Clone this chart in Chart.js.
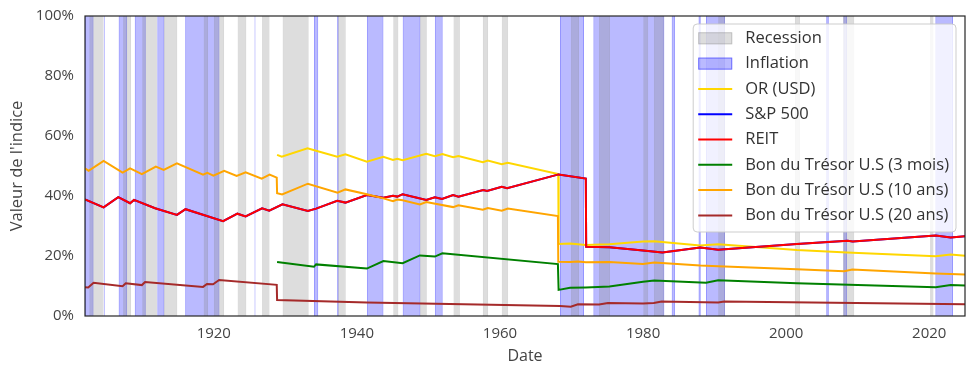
<!DOCTYPE html>
<html><head><meta charset="utf-8">
<script src="https://cdn.jsdelivr.net/npm/chart.js"></script>
<style>html,body{margin:0;padding:0;background:#fff}canvas{display:block}</style>
</head><body>
<canvas id="c" width="974" height="375"></canvas>
<script>
// ---------- data ----------
const xTickYears = [1920, 1940, 1960, 1980, 2000, 2020];
const yTickValues = [0, 20, 40, 60, 80, 100];

const recessionStart = [1902.6, 1907.33, 1910.0, 1913.0, 1918.58, 1920.0, 1923.33, 1926.75, 1929.62, 1937.33, 1945.08, 1948.83, 1953.5, 1957.6, 1960.25, 1969.9, 1973.85, 1980.03, 1981.5, 1990.5, 2001.22, 2007.95, 2020.12];
const recessionEnd   = [1904.6, 1908.45, 1912.05, 1914.9, 1919.2, 1921.45, 1924.55, 1927.8, 1933.27, 1938.45, 1945.8, 1949.78, 1954.4, 1958.35, 1961.15, 1971.05, 1975.38, 1980.72, 1982.92, 1991.45, 2001.95, 2009.52, 2020.6];

const inflationStart = [1902.0, 1904.62, 1906.7, 1908.95, 1912.1, 1916.0, 1925.69, 1934.0, 1937.24, 1941.4, 1946.4, 1950.9, 1968.39, 1973.05, 1984.0, 1987.75, 1988.8, 2005.6, 2008.0, 2020.85];
const inflationEnd   = [1903.2, 1904.76, 1907.9, 1910.5, 1913.1, 1920.8, 1925.83, 1934.6, 1937.46, 1943.72, 1948.88, 1952.0, 1971.75, 1982.98, 1984.46, 1988.07, 1991.45, 2005.97, 2008.5, 2023.32];

const orYears  = [1928.85, 1929.5, 1933.1, 1934.3, 1937.25, 1938.4, 1941.4, 1943.7, 1945.05, 1945.65, 1946.4, 1949.7, 1950.9, 1951.95, 1953.45, 1954.2, 1957.6, 1958.3, 1960.25, 1961.1, 1968.15, 1968.2, 1969.8, 1972.0, 1975.3, 1980.0, 1981.55, 1988.0, 1990.5, 2001.5, 2008.5, 2020.9, 2023.0, 2025.0];
const orValues = [53.7, 53.1, 55.9, 55.1, 53.1, 53.9, 51.4, 53.1, 52.0, 52.4, 51.9, 54.1, 53.3, 54.0, 52.9, 53.3, 51.3, 51.8, 50.6, 51.1, 47.3, 24.0, 24.2, 23.7, 23.9, 24.8, 24.9, 23.5, 23.9, 22.0, 21.2, 19.9, 20.5, 20.1];

const reitYears  = [1902.0, 1904.6, 1906.65, 1908.3, 1908.85, 1911.8, 1914.85, 1916.05, 1921.3, 1923.3, 1924.45, 1926.75, 1927.75, 1929.6, 1933.15, 1934.3, 1937.25, 1938.4, 1941.4, 1943.7, 1945.05, 1945.65, 1946.4, 1949.7, 1950.9, 1951.9, 1953.45, 1954.2, 1957.65, 1958.2, 1960.25, 1961.0, 1968.2, 1972.0, 1972.05, 1975.3, 1980.0, 1982.7, 1988.0, 1990.5, 2001.5, 2008.6, 2009.3, 2020.9, 2023.0, 2025.0];
const reitValues = [38.9, 36.2, 39.6, 37.6, 38.7, 35.9, 33.7, 35.6, 31.6, 34.1, 33.2, 35.9, 35.1, 37.2, 35.0, 35.8, 38.4, 37.8, 40.3, 39.4, 40.1, 39.8, 40.6, 38.7, 39.6, 39.0, 40.3, 39.8, 42.0, 41.7, 43.1, 42.6, 47.2, 45.8, 23.1, 22.9, 21.8, 21.2, 22.8, 22.1, 24.0, 25.1, 24.8, 26.8, 26.2, 26.6];

// S&P 500 lies exactly underneath the REIT line in the reference
const spYears  = reitYears;
const spValues = reitValues;

const bill3mYears  = [1928.85, 1934.0, 1934.3, 1941.4, 1943.7, 1946.4, 1948.8, 1950.9, 1951.95, 1968.1, 1968.2, 1969.8, 1972.0, 1975.3, 1980.0, 1981.55, 1988.8, 1990.5, 2001.5, 2020.9, 2023.0, 2025.0];
const bill3mValues = [18.0, 16.4, 17.2, 15.8, 18.3, 17.6, 20.2, 19.8, 20.9, 17.3, 8.7, 9.4, 9.5, 9.8, 11.4, 11.8, 11.1, 11.9, 10.9, 9.6, 10.3, 10.2];

const bond10Years  = [1902.0, 1902.5, 1904.6, 1907.25, 1908.3, 1909.95, 1911.9, 1913.0, 1914.85, 1918.5, 1919.1, 1919.95, 1921.45, 1923.2, 1924.45, 1926.7, 1927.8, 1928.8, 1928.85, 1929.55, 1933.15, 1937.3, 1938.4, 1941.4, 1943.7, 1945.05, 1945.65, 1946.4, 1948.8, 1949.7, 1953.45, 1954.2, 1957.6, 1958.3, 1960.25, 1961.1, 1968.1, 1968.15, 1969.8, 1970.9, 1972.0, 1975.3, 1980.0, 1981.55, 1988.0, 1990.5, 2001.5, 2008.1, 2009.25, 2020.9, 2025.0];
const bond10Values = [49.2, 48.4, 51.7, 47.8, 49.2, 47.3, 49.8, 48.7, 50.9, 47.1, 47.7, 46.8, 48.4, 46.7, 47.9, 45.8, 47.1, 46.1, 40.9, 40.5, 44.1, 41.1, 42.2, 40.6, 39.2, 38.3, 38.8, 38.6, 37.2, 38.0, 36.3, 36.9, 35.4, 36.0, 35.1, 35.8, 33.3, 18.1, 18.0, 18.2, 17.9, 18.0, 17.3, 17.8, 16.8, 16.6, 15.6, 14.9, 15.5, 14.2, 13.8];

const bond20Years  = [1902.0, 1902.45, 1903.2, 1907.25, 1907.7, 1909.95, 1910.4, 1918.5, 1919.05, 1919.9, 1920.75, 1928.8, 1928.85, 1941.4, 1968.4, 1969.9, 1970.9, 1973.85, 1975.1, 1980.0, 1981.5, 1982.6, 1990.5, 1991.35, 2025.0];
const bond20Values = [9.6, 9.5, 11.1, 9.9, 10.9, 10.3, 11.3, 9.7, 10.7, 10.6, 12.0, 10.4, 5.3, 4.5, 3.3, 3.1, 3.9, 3.8, 4.3, 4.2, 4.3, 4.8, 4.5, 4.8, 3.9];

// ---------- chart ----------
const FONT = "'Open Sans', sans-serif";
Chart.defaults.font.family = FONT;

const toPoints = (years, values) => years.map((yr, i) => ({x: yr, y: values[i]}));
const lineSet = (label, years, values, color, order) => ({
  type: 'line', label, data: toPoints(years, values),
  borderColor: color, backgroundColor: color, borderWidth: 2,
  pointRadius: 0, pointHoverRadius: 0, tension: 0, fill: false,
  xAxisID: 'x', yAxisID: 'y', order
});
const spanSet = (label, starts, ends, fill, edge) => ({
  type: 'bar', label, indexAxis: 'y', xAxisID: 'x', yAxisID: 'band',
  data: starts.map((s, i) => ({x: [s, ends[i]], y: 'band'})),
  backgroundColor: fill, borderColor: edge, borderWidth: 1, borderSkipped: false,
  grouped: false, barPercentage: 1, categoryPercentage: 1.05, clip: 0, order: 20
});

const framePlugin = {
  id: 'frame',
  afterDatasetsDraw(chart) {
    const {ctx, chartArea: a} = chart;
    ctx.save();
    ctx.strokeStyle = '#262626';
    ctx.lineWidth = 1.2;
    ctx.strokeRect(a.left, a.top, a.right - a.left, a.bottom - a.top);
    ctx.restore();
  }
};

const legendPlugin = {
  id: 'boxLegend',
  afterDraw(chart) {
    const {ctx, chartArea: a} = chart;
    const sets = chart.data.datasets;
    const rowH = 25.3;
    ctx.save();
    ctx.font = "16.5px " + FONT;
    const maxW = Math.max(...sets.map(d => ctx.measureText(d.label).width));
    const w = 52 + maxW + 7, h = sets.length * rowH + 5.6;
    const right = a.right - 9, top = a.top + 8, left = right - w, r = 4;
    ctx.beginPath();
    ctx.moveTo(left + r, top);
    ctx.arcTo(right, top, right, top + h, r);
    ctx.arcTo(right, top + h, left, top + h, r);
    ctx.arcTo(left, top + h, left, top, r);
    ctx.arcTo(left, top, right, top, r);
    ctx.closePath();
    ctx.fillStyle = 'rgba(255,255,255,0.8)';
    ctx.fill();
    ctx.strokeStyle = 'rgba(200,200,200,0.9)';
    ctx.lineWidth = 1;
    ctx.stroke();
    sets.forEach((d, i) => {
      const cy = top + 14.3 + i * rowH;
      const hx = left + 5;
      if (d.type === 'bar') {
        ctx.fillStyle = d.backgroundColor;
        ctx.fillRect(hx, cy - 6, 34, 12);
        ctx.strokeStyle = d.borderColor;
        ctx.lineWidth = 1;
        ctx.strokeRect(hx + 0.5, cy - 5.5, 33, 11);
      } else {
        ctx.strokeStyle = d.borderColor;
        ctx.lineWidth = 2;
        ctx.beginPath();
        ctx.moveTo(hx, cy);
        ctx.lineTo(hx + 34, cy);
        ctx.stroke();
      }
      ctx.fillStyle = '#333';
      ctx.textBaseline = 'middle';
      ctx.textAlign = 'left';
      ctx.fillText(d.label, left + 52, cy);
    });
    ctx.restore();
  }
};

new Chart(document.getElementById('c'), {
  type: 'line',
  data: {
    datasets: [
      spanSet('Recession', recessionStart, recessionEnd, 'rgba(128,128,128,0.27)', 'rgba(128,128,128,0.32)'),
      spanSet('Inflation', inflationStart, inflationEnd, 'rgba(0,0,255,0.27)', 'rgba(0,0,255,0.42)'),
      lineSet('OR (USD)', orYears, orValues, '#FFD700', 6),
      lineSet('S&P 500', spYears, spValues, '#0000FF', 5),
      lineSet('REIT', reitYears, reitValues, '#FF0000', 4),
      lineSet('Bon du Trésor U.S (3 mois)', bill3mYears, bill3mValues, '#008000', 3),
      lineSet('Bon du Trésor U.S (10 ans)', bond10Years, bond10Values, '#FFA500', 2),
      lineSet('Bon du Trésor U.S (20 ans)', bond20Years, bond20Values, '#A52A2A', 1)
    ]
  },
  options: {
    responsive: false,
    devicePixelRatio: 1,
    animation: false,
    layout: {padding: {left: 0, top: 16, right: 9, bottom: 0}},
    plugins: {legend: {display: false}, tooltip: {enabled: false}},
    events: [],
    scales: {
      x: {
        type: 'linear', position: 'bottom', min: 1902, max: 2025,
        afterBuildTicks: s => { s.ticks = xTickYears.map(v => ({value: v})); },
        afterFit: s => { s.height = 59; s.paddingLeft = 0; s.paddingRight = 0; },
        ticks: {callback: v => String(v), font: {size: 15}, color: '#444', padding: 9, maxRotation: 0, autoSkip: false},
        grid: {display: false, drawTicks: false},
        border: {display: false},
        title: {display: true, text: 'Date', font: {size: 16}, color: '#444', padding: {top: 0, bottom: 9}}
      },
      y: {
        type: 'linear', position: 'left', min: 0, max: 100,
        afterBuildTicks: s => { s.ticks = yTickValues.map(v => ({value: v})); },
        afterFit: s => { s.width = 85; s.paddingTop = 0; s.paddingBottom = 0; },
        ticks: {callback: v => v + '%', font: {size: 15}, color: '#444', padding: 11},
        grid: {display: false, drawTicks: false},
        border: {display: false},
        title: {display: true, text: "Valeur de l'indice", font: {size: 16.5}, color: '#444', padding: {top: 7, bottom: 0}}
      },
      band: {type: 'category', labels: ['band'], display: false, offset: true}
    }
  },
  plugins: [framePlugin, legendPlugin]
});
</script>
</body></html>
